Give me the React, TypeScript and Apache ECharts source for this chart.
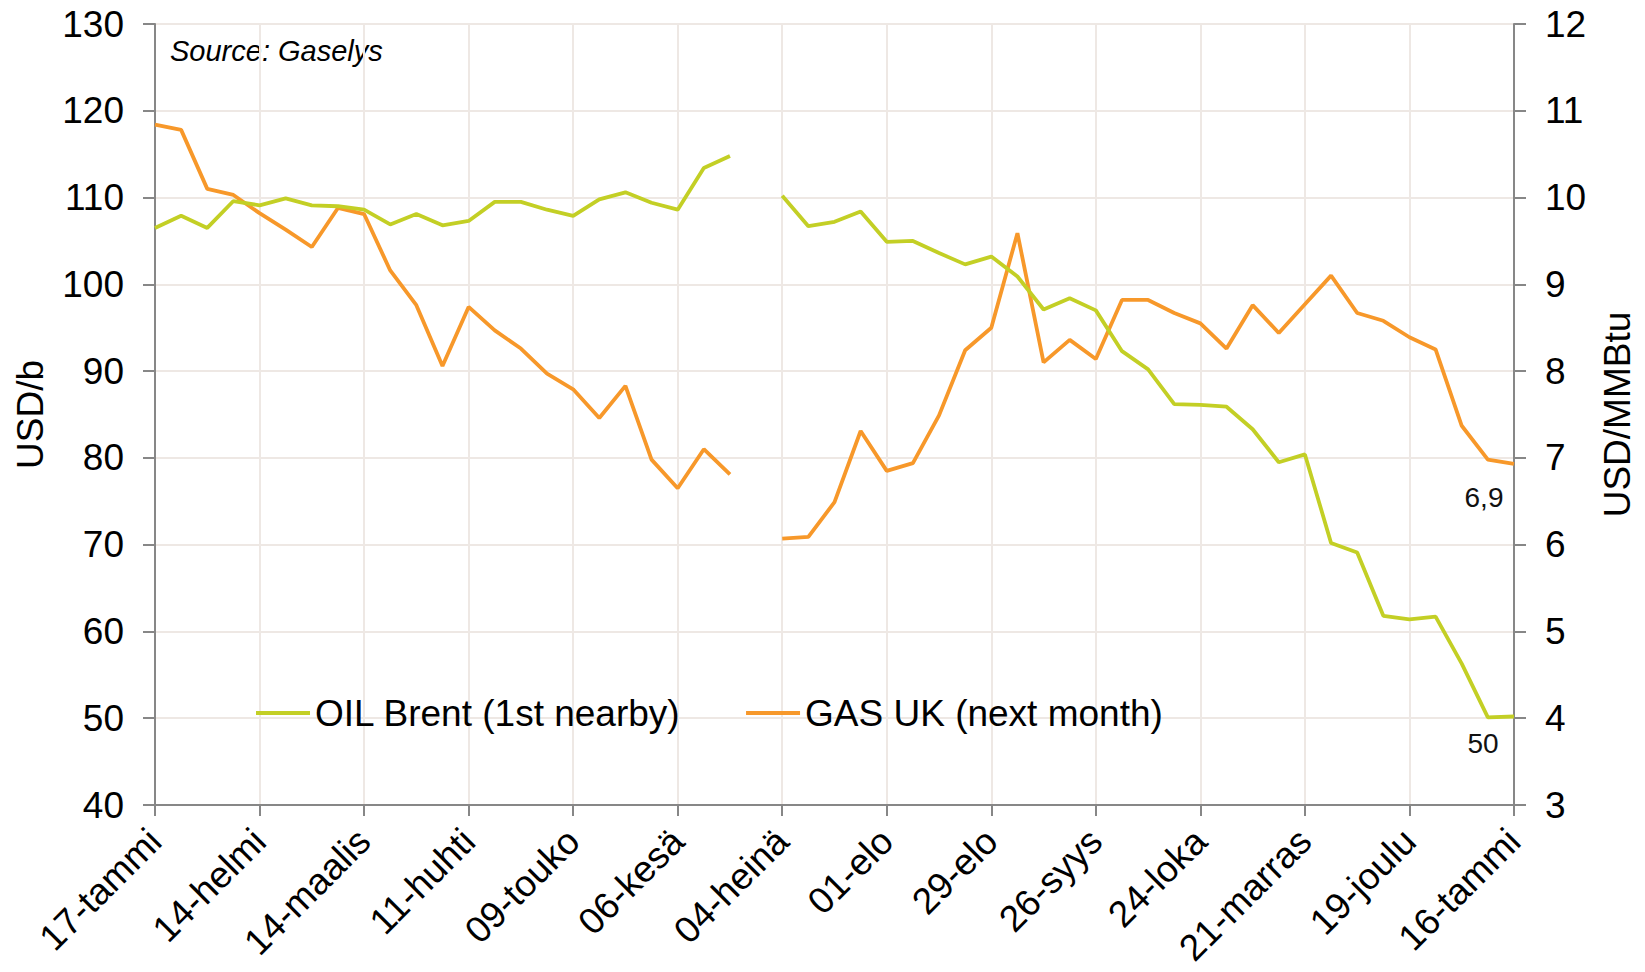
import React, { useEffect, useRef } from "react";
import * as echarts from "echarts";

const categories = [
  "17-tammi", "24-tammi", "31-tammi", "07-helmi", "14-helmi", "21-helmi", "28-helmi",
  "07-maalis", "14-maalis", "21-maalis", "28-maalis", "04-huhti", "11-huhti", "18-huhti",
  "25-huhti", "02-touko", "09-touko", "16-touko", "23-touko", "30-touko", "06-kesä",
  "13-kesä", "20-kesä", "27-kesä", "04-heinä", "11-heinä", "18-heinä", "25-heinä",
  "01-elo", "08-elo", "15-elo", "22-elo", "29-elo", "05-syys", "12-syys", "19-syys",
  "26-syys", "03-loka", "10-loka", "17-loka", "24-loka", "31-loka", "07-marras",
  "14-marras", "21-marras", "28-marras", "05-joulu", "12-joulu", "19-joulu", "26-joulu",
  "02-tammi", "09-tammi", "16-tammi",
];

const oilBrent: (number | null)[] = [
  106.5, 107.9, 106.5, 109.6, 109.1, 109.9, 109.1, 109.0, 108.6, 106.9, 108.1, 106.8,
  107.3, 109.5, 109.5, 108.6, 107.9, 109.8, 110.6, 109.4, 108.6, 113.4, 114.8, null,
  110.2, 106.7, 107.2, 108.4, 104.9, 105.0, 103.6, 102.3, 103.2, 100.9, 97.1, 98.4,
  97.0, 92.3, 90.2, 86.2, 86.1, 85.9, 83.3, 79.5, 80.4, 70.2, 69.1, 61.8, 61.4, 61.7,
  56.3, 50.1, 50.2,
];

const gasUK: (number | null)[] = [
  10.84, 10.78, 10.1, 10.03, 9.82, 9.63, 9.43, 9.88, 9.81, 9.16, 8.76, 8.06, 8.74,
  8.47, 8.26, 7.97, 7.79, 7.46, 7.83, 6.98, 6.65, 7.1, 6.81, null, 6.07, 6.09, 6.49,
  7.31, 6.85, 6.94, 7.49, 8.24, 8.5, 9.59, 8.1, 8.36, 8.14, 8.82, 8.82, 8.67, 8.55,
  8.26, 8.76, 8.44, 8.77, 9.1, 8.67, 8.58, 8.39, 8.25, 7.37, 6.98, 6.93,
];

const seriesNames = ["OIL Brent (1st nearby)", "GAS UK (next month)"];
const leftAxisName = "USD/b";
const rightAxisName = "USD/MMBtu";
const sourceText = "Source: Gaselys";

const FONT = "'Liberation Sans', Arial, Helvetica, sans-serif";
const OIL_COLOR = "#C3CF25";
const GAS_COLOR = "#F7982A";
const GRID_COLOR = "#EEE8E4";
const AXIS_COLOR = "#878787";

const fmt = (v: number, digits: number) => v.toFixed(digits).replace(".", ",");

export default function App() {
  const ref = useRef<HTMLDivElement>(null);

  useEffect(() => {
    document.body.style.margin = "0";
    const chart = echarts.init(ref.current!, null, { renderer: "svg" });
    const option: any = {
      animation: false,
      backgroundColor: "#ffffff",
      textStyle: { fontFamily: FONT },
      grid: {
        left: 155,
        right: 131,
        top: 24,
        bottom: 167,
        containLabel: false,
        outerBoundsMode: "none",
      },
      legend: {
        left: 251,
        top: 686,
        icon: "rect",
        itemWidth: 54,
        itemHeight: 4,
        itemGap: 65,
        textStyle: { fontSize: 37, color: "#000", fontFamily: FONT, lineHeight: 44 },
        data: seriesNames,
      },
      graphic: [
        {
          type: "text",
          left: 170,
          top: 36,
          style: {
            text: sourceText,
            fontSize: 29,
            fontStyle: "italic",
            fontFamily: FONT,
            fill: "#000",
          },
        },
      ],
      xAxis: {
        type: "category",
        data: categories,
        boundaryGap: false,
        axisLine: { lineStyle: { color: AXIS_COLOR, width: 2 } },
        axisTick: { show: true, interval: 3, length: 11, lineStyle: { color: AXIS_COLOR, width: 2 } },
        axisLabel: {
          interval: 3,
          rotate: 45,
          margin: 30,
          fontSize: 37,
          color: "#000",
          fontFamily: FONT,
        },
        splitLine: { show: true, interval: 3, lineStyle: { color: GRID_COLOR, width: 2 } },
      },
      yAxis: [
        {
          type: "value",
          min: 40,
          max: 130,
          interval: 10,
          position: "left",
          name: leftAxisName,
          nameLocation: "middle",
          nameRotate: 90,
          nameGap: 106,
          nameTextStyle: { fontSize: 37, color: "#000", fontFamily: FONT },
          axisLine: { show: true, lineStyle: { color: AXIS_COLOR, width: 2 } },
          axisTick: { show: true, length: 12, lineStyle: { color: AXIS_COLOR, width: 2 } },
          axisLabel: { margin: 31, fontSize: 37, color: "#000", fontFamily: FONT },
          splitLine: { show: true, lineStyle: { color: GRID_COLOR, width: 2 } },
        },
        {
          type: "value",
          min: 3,
          max: 12,
          interval: 1,
          position: "right",
          name: rightAxisName,
          nameLocation: "middle",
          nameRotate: 90,
          nameGap: 85,
          nameTextStyle: { fontSize: 37, color: "#000", fontFamily: FONT },
          axisLine: { show: true, lineStyle: { color: AXIS_COLOR, width: 2 } },
          axisTick: { show: true, length: 12, lineStyle: { color: AXIS_COLOR, width: 2 } },
          axisLabel: { margin: 31, fontSize: 37, color: "#000", fontFamily: FONT },
          splitLine: { show: false },
        },
      ],
      series: [
        {
          name: seriesNames[0],
          type: "line",
          yAxisIndex: 0,
          data: oilBrent,
          symbol: "none",
          connectNulls: false,
          lineStyle: { color: OIL_COLOR, width: 3.8 },
          itemStyle: { color: OIL_COLOR },
          endLabel: {
            show: true,
            formatter: (p: any) => fmt(Number(p.value), 0),
            align: "center",
            verticalAlign: "middle",
            distance: 0,
            offset: [-31, 27],
            fontSize: 28,
            color: "#111",
            fontFamily: FONT,
          },
          z: 3,
        },
        {
          name: seriesNames[1],
          type: "line",
          yAxisIndex: 1,
          data: gasUK,
          symbol: "none",
          connectNulls: false,
          lineStyle: { color: GAS_COLOR, width: 3.8 },
          itemStyle: { color: GAS_COLOR },
          endLabel: {
            show: true,
            formatter: (p: any) => fmt(Number(p.value), 1),
            align: "center",
            verticalAlign: "middle",
            distance: 0,
            offset: [-30, 34],
            fontSize: 28,
            color: "#111",
            fontFamily: FONT,
          },
          z: 2,
        },
      ],
    };
    chart.setOption(option);
    return () => chart.dispose();
  }, []);

  return (
    <div
      ref={ref}
      style={{ position: "fixed", left: 0, top: 0, width: 1645, height: 972 }}
    />
  );
}
